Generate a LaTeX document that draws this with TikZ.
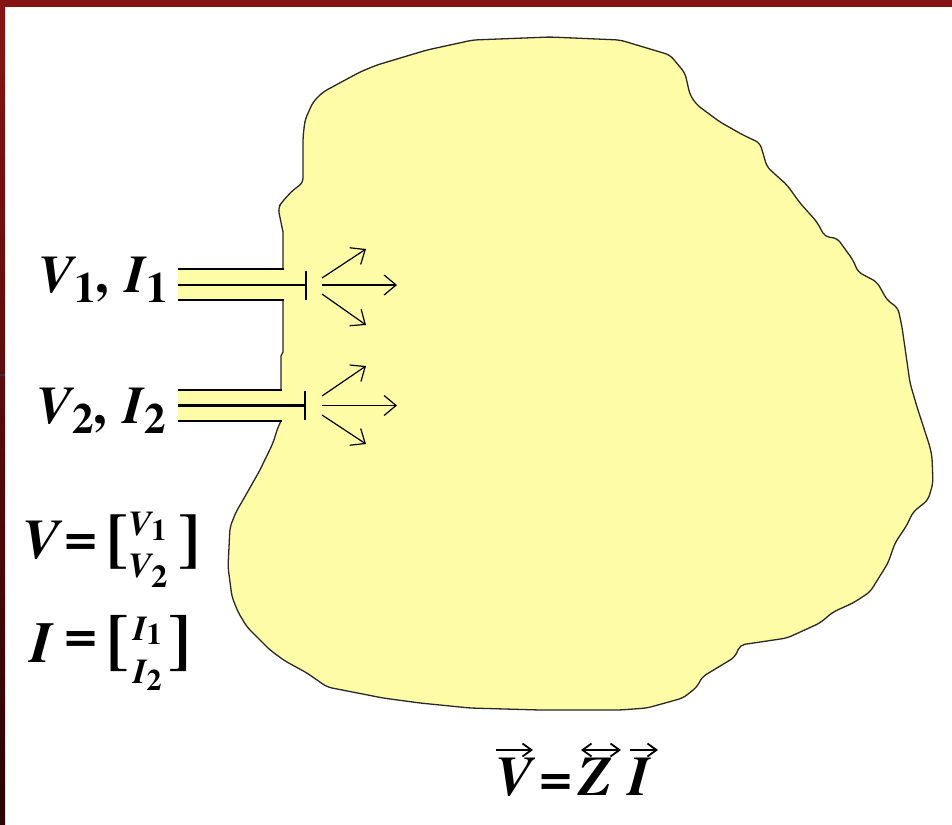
\documentclass[tikz,border=0pt]{standalone}
\usepackage{fontspec}
\setmainfont{TeX Gyre Termes}
\usetikzlibrary{arrows.meta,calc}
\definecolor{blobfill}{RGB}{255,252,168}
\definecolor{framered}{RGB}{133,21,21}
\definecolor{framedark}{RGB}{42,4,4}
\definecolor{outl}{RGB}{40,40,40}
\newcommand{\blobline}{-- (283,232) [rounded corners=5pt] -- (278,208) -- (282,202) -- (293,190) -- (303,183) -- (303,137) -- (305,120) -- (313,102) -- (323,92) -- (360,72) -- (377,65) -- (427,50) -- (473,40) -- (550,37) -- (620,40) -- (670,55) -- (685,73) -- (690,95) -- (697,105) -- (720,122) -- (743,135) -- (760,143) -- (767,167) -- (787,185) -- (800,203) -- (817,222) -- (825,237) -- (837,238) -- (853,260) -- (858,272) -- (877,282) -- (887,300) -- (898,308) -- (902,327) -- (910,383) -- (917,407) -- (930,447) -- (932,457) -- (933,483) -- (928,500) -- (913,512) -- (907,525) -- (895,543) -- (888,563) -- (870,592) -- (853,603) -- (833,612) -- (820,623) -- (787,638) -- (740,645) -- (735,657) -- (702,677) -- (697,687) -- (683,698) -- (647,708) -- (620,710) -- (540,710) -- (470,708) -- (420,703) -- (383,698) -- (327,687) -- (307,673) -- (285,661) -- (270,650) -- (247,627) -- (238,612) -- (232,597) -- (228,567) -- (230,527) -- (236,512) -- (243,500) -- (260,470) -- (273,443) -- (278,427) [sharp corners] -- (281,421)}
\newcommand{\BI}{\bfseries\itshape}
\begin{document}
\begin{tikzpicture}[x=1pt,y=-1pt,
  portline/.style={line width=2.6pt, draw=black},
  portbar/.style={line width=2.8pt, draw=black},
  outline/.style={line width=1.3pt, draw=outl, line join=round},
  ray/.style={line width=1.2pt, -{Straight Barb[length=12pt,width=20pt,line width=1.2pt]}},
  eqarrow/.style={line width=1.8pt, -{Straight Barb[length=9pt,width=13pt,line width=1.8pt]}},
  eqdarrow/.style={line width=1.8pt, {Straight Barb[length=9pt,width=13pt,line width=1.8pt]}-{Straight Barb[length=9pt,width=13pt,line width=1.8pt]}},
  txt/.style={inner sep=0pt, outer sep=0pt}]
\useasboundingbox (0,0) rectangle (952,824);
\fill[white] (0,0) rectangle (952,824);
\fill[framered] (0,0) rectangle (952,7);
\shade[top color=framered, bottom color=framedark] (0,7) rectangle (5,824);
\draw[line width=1.5pt, black!80] (0,375) -- (5,375);
% blob fill including port channels
\fill[blobfill] (178,269) -- (283,269) \blobline -- (178,421) -- (178,390) -- (281,390) -- (281,356) -- (283,352) -- (283,300) -- (178,300) -- cycle;
% blob outline
\draw[outline] (283,269) \blobline;
\draw[outline] (283,300) -- (283,352) -- (281,356) -- (281,390);
% ports
\draw[portline] (178,269) -- (284,269);
\draw[portline] (178,300) -- (284,300);
\draw[portline] (178,285) -- (306,285);
\draw[portbar] (306,271) -- (306,300);
\draw[portline] (178,390) -- (282,390);
\draw[portline] (178,421) -- (282,421);
\draw[portline] (178,405.5) -- (305,405.5);
\draw[portbar] (305,391) -- (305,420);
% ray coordinates
\coordinate (s1u) at (322,278); \coordinate (e1u) at (366,249);
\coordinate (s1m) at (322,285); \coordinate (e1m) at (397,285);
\coordinate (s1d) at (322,294); \coordinate (e1d) at (366,325);
\coordinate (s2u) at (322,396); \coordinate (e2u) at (366,366);
\coordinate (s2m) at (322,405.5); \coordinate (e2m) at (397,405.5);
\coordinate (s2d) at (322,415); \coordinate (e2d) at (366,444);
\draw[ray] (s1u) -- (e1u);
\draw[ray] (s1m) -- (e1m);
\draw[ray] (s1d) -- (e1d);
\draw[ray] (s2u) -- (e2u);
\draw[ray] (s2m) -- (e2m);
\draw[ray] (s2d) -- (e2d);
% port labels
\node[txt, anchor=base west] (lab1) at (38,292) {\fontsize{53}{60}\selectfont\BI V\kern1pt\raisebox{-10pt}{\fontsize{43}{43}\selectfont\bfseries\upshape 1}{\bfseries\upshape ,}\kern16pt\BI I\kern1pt\raisebox{-10pt}{\fontsize{43}{43}\selectfont\bfseries\upshape 1}};
\node[txt, anchor=base west] (lab2) at (36,423) {\fontsize{53}{60}\selectfont\BI V\kern1pt\raisebox{-10pt}{\fontsize{43}{43}\selectfont\bfseries\upshape 2}{\bfseries\upshape ,}\kern16pt\BI I\kern1pt\raisebox{-10pt}{\fontsize{43}{43}\selectfont\bfseries\upshape 2}};
% V matrix
\node[txt, anchor=base west] (vm) at (22,558) {\fontsize{56}{60}\selectfont\BI V};
\node[txt] (veq) at (81,546) {\fontsize{58}{60}\selectfont\bfseries =};
\node[txt] (vlb) at (117.5,542) {\fontsize{66}{70}\selectfont\bfseries [};
\node[txt, anchor=base west] (v1) at (128,535) {\fontsize{35}{40}\selectfont\BI V\raisebox{-5pt}{\fontsize{30}{30}\selectfont\bfseries\upshape 1}};
\node[txt, anchor=base west] (v2) at (128,577) {\fontsize{35}{40}\selectfont\BI V\raisebox{-10pt}{\fontsize{32}{32}\selectfont\bfseries\upshape 2}};
\node[txt] (vrb) at (189.5,542) {\fontsize{66}{70}\selectfont\bfseries ]};
% I matrix
\node[txt, anchor=base west] (im) at (30,662) {\fontsize{58}{60}\selectfont\BI I};
\node[txt] (ieq) at (81,643) {\fontsize{58}{60}\selectfont\bfseries =};
\node[txt] (ilb) at (117.5,644) {\fontsize{68}{70}\selectfont\bfseries [};
\node[txt, anchor=base west] (i1) at (133,640) {\fontsize{35}{40}\selectfont\BI I\raisebox{-4pt}{\fontsize{30}{30}\selectfont\bfseries\upshape 1}};
\node[txt, anchor=base west] (i2) at (133,683) {\fontsize{35}{40}\selectfont\BI I\raisebox{-7pt}{\fontsize{30}{30}\selectfont\bfseries\upshape 2}};
\node[txt] (irb) at (179.5,644) {\fontsize{68}{70}\selectfont\bfseries ]};
% bottom equation
\node[txt, anchor=base west] (ev) at (495,795) {\fontsize{56}{60}\selectfont\BI V};
\node[txt] (eeq) at (556,785) {\fontsize{58}{60}\selectfont\bfseries =};
\node[txt, anchor=base west] (ez) at (578,795) {\fontsize{56}{60}\selectfont\BI Z};
\node[txt, anchor=base west] (ei) at (628,795) {\fontsize{56}{60}\selectfont\BI I};
\draw[eqarrow] ($(ev.base west)+(1,-45)$) -- ($(ev.base west)+(38,-45)$);
\draw[eqdarrow] ($(ez.base west)+(3,-45)$) -- ($(ez.base west)+(43,-45)$);
\draw[eqarrow] ($(ei.base west)+(2,-45)$) -- ($(ei.base west)+(30,-45)$);
\end{tikzpicture}
\end{document}
